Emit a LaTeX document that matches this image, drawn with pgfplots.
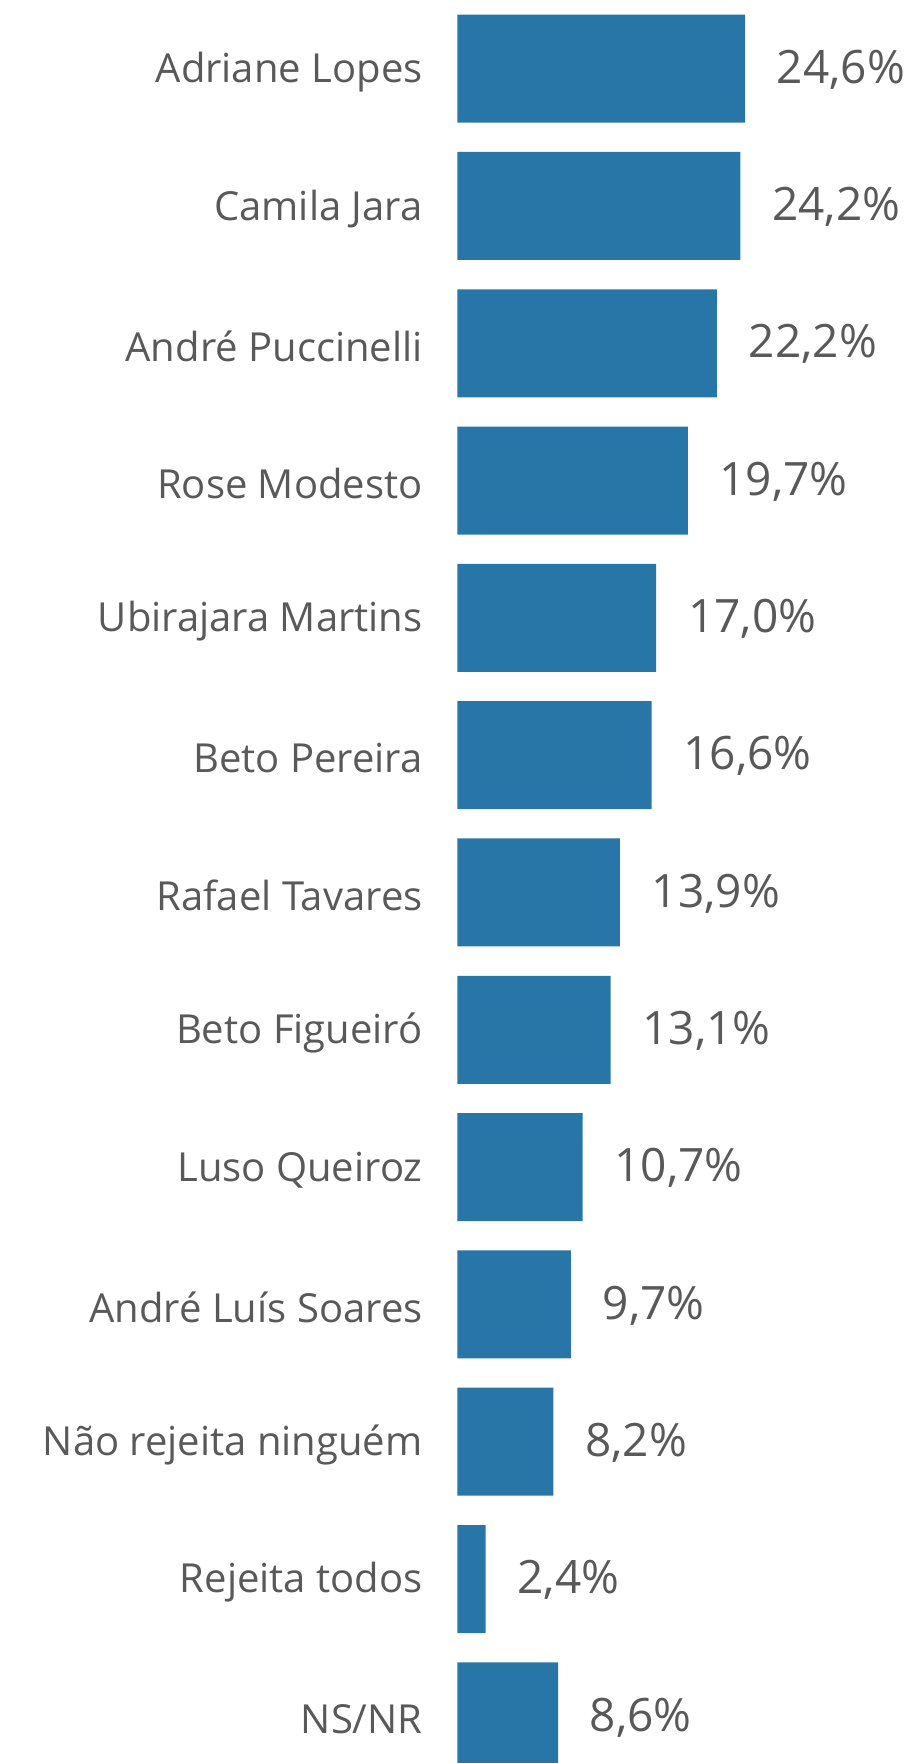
\documentclass[border=0pt]{standalone}
\usepackage{fontspec}
\setmainfont{Open Sans}
\usepackage{pgfplots}
\pgfplotsset{compat=1.18}
\definecolor{barblue}{HTML}{2876A7}
\definecolor{txtgray}{HTML}{595959}
\begin{document}
\begin{tikzpicture}
\begin{axis}[
  scale only axis,
  width=224.25pt, height=881.5pt,
  xbar, bar width=54pt,
  xmin=0, xmax=38.37,
  ymin=-0.5, ymax=12.34,
  y dir=reverse,
  axis line style={draw=none},
  tick style={draw=none},
  xtick=\empty,
  ytick={0,...,12},
  yticklabels={Adriane Lopes, Camila Jara, André Puccinelli, Rose Modesto,
    Ubirajara Martins, Beto Pereira, Rafael Tavares, Beto Figueiró,
    Luso Queiroz, André Luís Soares, Não rejeita ninguém, Rejeita todos, NS/NR},
  yticklabel style={font=\fontsize{20}{24}\selectfont, text=txtgray, inner sep=0pt, xshift=-13pt, yshift=-1.5pt},
  nodes near coords={\pgfmathprintnumber[fixed,fixed zerofill,precision=1,use comma]{\pgfplotspointmeta}\%},
  nodes near coords style={font=\fontsize{23}{27}\selectfont, text=txtgray, anchor=west, inner sep=0pt, xshift=15.75pt, yshift=-0.5pt},
  /pgf/number format/assume math mode=true,
]
\addplot[fill=barblue, draw=none] coordinates {
  (24.6,0) (24.2,1) (22.2,2) (19.7,3) (17.0,4) (16.6,5) (13.9,6)
  (13.1,7) (10.7,8) (9.7,9) (8.2,10) (2.4,11) (8.6,12)
};
\end{axis}
\pgfresetboundingbox
\path[use as bounding box] ([xshift=-228.75pt]current axis.south west) rectangle (current axis.north east);
\end{tikzpicture}
\end{document}
